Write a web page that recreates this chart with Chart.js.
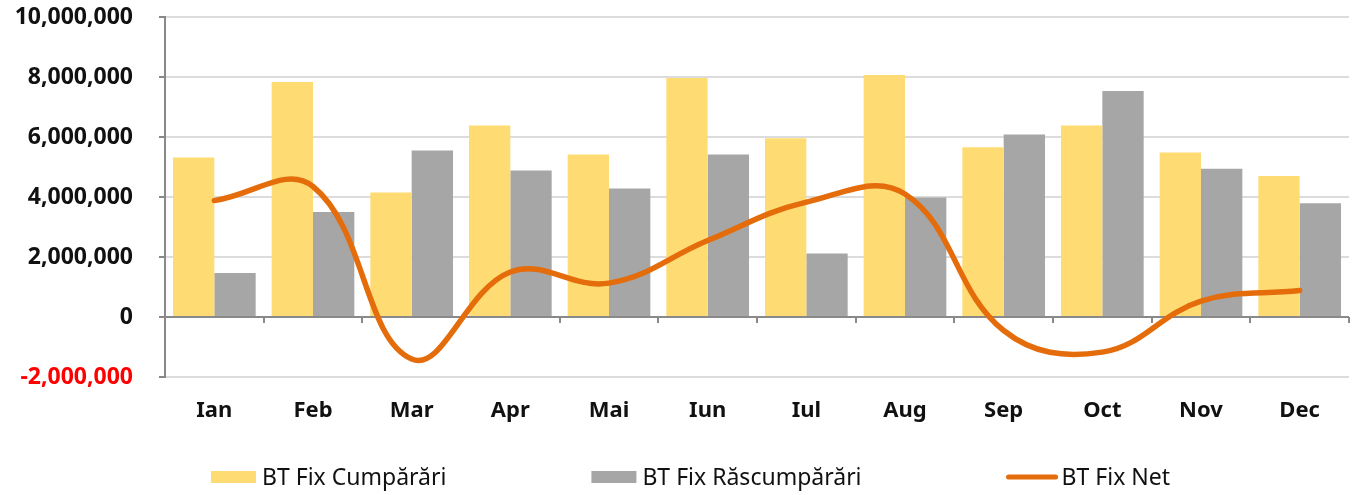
<!DOCTYPE html>
<html>
<head>
<meta charset="utf-8">
<script src="https://cdn.jsdelivr.net/npm/chart.js@4.4.1/dist/chart.umd.min.js"></script>
<style>
  html, body { margin: 0; padding: 0; background: #ffffff; }
  #wrap { width: 1354px; height: 495px; }
</style>
</head>
<body>
<div id="wrap"><canvas id="c" width="1354" height="495"></canvas></div>
<script>
const categories = ['Ian', 'Feb', 'Mar', 'Apr', 'Mai', 'Iun', 'Iul', 'Aug', 'Sep', 'Oct', 'Nov', 'Dec'];
const cumparari = [5320000, 7830000, 4150000, 6380000, 5420000, 7970000, 5960000, 8070000, 5660000, 6380000, 5480000, 4700000];
const rascumparari = [1470000, 3500000, 5550000, 4880000, 4280000, 5420000, 2120000, 3980000, 6080000, 7530000, 4940000, 3790000];
const net = [3880000, 4350000, -1400000, 1500000, 1130000, 2550000, 3830000, 4100000, -450000, -1170000, 530000, 880000];
const seriesNames = ['BT Fix Cumpărări', 'BT Fix Răscumpărări', 'BT Fix Net'];
const yMin = -2000000, yMax = 10000000, yStep = 2000000;

const C_YELLOW = '#FFDC73';
const C_GRAY = '#A6A6A6';
const C_ORANGE = '#E46C0A';
const C_AXIS = '#898989';
const C_GRID = '#DCDCDC';

const zeroTicks = {
  id: 'zeroTicks',
  beforeDatasetsDraw(chart) {
    const x = chart.scales.x, y = chart.scales.y, ctx = chart.ctx;
    const y0 = y.getPixelForValue(0);
    const step = (x.right - x.left) / categories.length;
    ctx.save();
    ctx.strokeStyle = C_AXIS;
    ctx.lineWidth = 2;
    ctx.beginPath();
    for (let i = 0; i <= categories.length; i++) {
      const px = Math.round(x.getPixelForValue(0) - step / 2 + i * step);
      ctx.moveTo(px, y0);
      ctx.lineTo(px, y0 + 6);
    }
    ctx.stroke();
    ctx.restore();
  }
};

const customLegend = {
  id: 'customLegend',
  afterDraw(chart) {
    const ctx = chart.ctx;
    const ds = chart.data.datasets;
    const order = [ds[1], ds[2], ds[0]];
    ctx.save();
    ctx.font = '23px "Noto Sans"';
    ctx.textBaseline = 'middle';
    ctx.textAlign = 'left';
    let x = 211;
    const yMid = 477;
    order.forEach((d, i) => {
      if (d.type === 'line') {
        ctx.strokeStyle = d.borderColor;
        ctx.lineWidth = 5;
        ctx.lineCap = 'round';
        ctx.beginPath();
        ctx.moveTo(x + 2, yMid);
        ctx.lineTo(x + 49, yMid);
        ctx.stroke();
        x += 55;
      } else {
        ctx.fillStyle = d.backgroundColor;
        ctx.fillRect(x, yMid - 6, 45, 12);
        x += 51;
      }
      ctx.fillStyle = '#111111';
      ctx.fillText(d.label, x, yMid + 1);
      x += ctx.measureText(d.label).width + 145;
    });
    ctx.restore();
  }
};

new Chart(document.getElementById('c'), {
  data: {
    labels: categories,
    datasets: [
      { type: 'line', label: seriesNames[2], data: net, borderColor: C_ORANGE, backgroundColor: C_ORANGE,
        borderWidth: 5.5, tension: 0.4, pointRadius: 0, pointHoverRadius: 0, order: 0, borderCapStyle: 'round' },
      { type: 'bar', label: seriesNames[0], data: cumparari, backgroundColor: C_YELLOW,
        barPercentage: 1.0, categoryPercentage: 0.838, order: 1 },
      { type: 'bar', label: seriesNames[1], data: rascumparari, backgroundColor: C_GRAY,
        barPercentage: 1.0, categoryPercentage: 0.838, order: 1 }
    ]
  },
  options: {
    responsive: false,
    devicePixelRatio: 1,
    animation: false,
    layout: { padding: { top: 17, right: 5, bottom: 40, left: 0 } },
    plugins: { legend: { display: false }, tooltip: { enabled: false } },
    scales: {
      x: {
        grid: { display: false },
        border: { display: false },
        ticks: { color: '#111111', font: { family: 'Noto Sans', size: 22, weight: 'bold' }, padding: 13, maxRotation: 0 },
        afterFit(s) { s.height = 78; }
      },
      y: {
        min: yMin, max: yMax,
        border: { display: true, color: C_AXIS, width: 2 },
        grid: {
          color: c => (c.tick && c.tick.value === 0) ? C_AXIS : C_GRID,
          lineWidth: 2,
          tickColor: C_AXIS, tickLength: 6, drawTicks: true
        },
        ticks: {
          stepSize: yStep,
          padding: 26,
          color: c => (c.tick && c.tick.value < 0) ? '#FF0000' : '#111111',
          font: { family: 'Noto Sans', size: 23, weight: 'bold' },
          callback: v => Number(v).toLocaleString('en-US')
        },
        afterFit(s) { s.width = 165; s.paddingTop = 0; s.paddingBottom = 0; }
      }
    }
  },
  plugins: [zeroTicks, customLegend]
});
</script>
</body>
</html>
